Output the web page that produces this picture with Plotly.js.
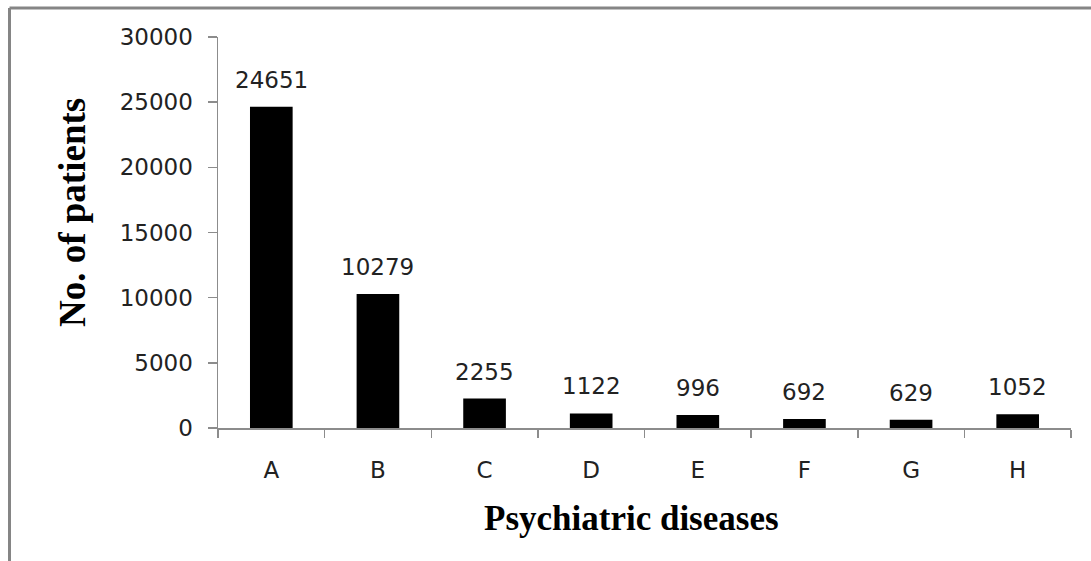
<!DOCTYPE html>
<html>
<head>
<meta charset="utf-8">
<script src="https://cdn.plot.ly/plotly-3.0.1.min.js"></script>
<style>
html,body{margin:0;padding:0;background:#fff;}
#chart{width:1091px;height:561px;}
</style>
</head>
<body>
<div id="chart"></div>
<script>
const categories = ["A", "B", "C", "D", "E", "F", "G", "H"];
const patients = [24651, 10279, 2255, 1122, 996, 692, 629, 1052];
const yTicks = [0, 5000, 10000, 15000, 20000, 25000, 30000];
const yTickText = ["0", "5000", "10000", "15000", "20000", "25000", "30000"];

const tickFont = {family: "DejaVu Sans, Verdana, sans-serif", size: 23, color: "#222"};
const serifFamily = "Liberation Serif, Times New Roman, serif";

const trace = {
  type: "bar",
  x: categories,
  y: patients,
  marker: {color: "#000", line: {width: 0}},
  hoverinfo: "x+y"
};

const labelAnnotations = categories.map((c, i) => ({
  x: c, y: patients[i], xref: "x", yref: "y",
  text: String(patients[i]), showarrow: false,
  yanchor: "bottom", yshift: 12,
  font: tickFont
}));

const layout = {
  width: 1091, height: 561,
  margin: {l: 218, r: 20, t: 37, b: 133},
  paper_bgcolor: "#fff", plot_bgcolor: "#fff",
  showlegend: false,
  bargap: 0.6,
  xaxis: {
    type: "category",
    tickson: "boundaries",
    ticks: "outside", ticklen: 8, tickwidth: 1.5, tickcolor: "#8c8c8c",
    showline: true, linecolor: "#8c8c8c", linewidth: 1.5,
    showgrid: false, zeroline: false,
    tickfont: tickFont,
    ticklabelstandoff: 21
  },
  yaxis: {
    range: [0, 30000],
    tickvals: yTicks,
    ticktext: yTickText,
    ticks: "outside", ticklen: 9, tickwidth: 1.5, tickcolor: "#8c8c8c",
    showline: true, linecolor: "#8c8c8c", linewidth: 1.5,
    showgrid: false, zeroline: false,
    tickfont: tickFont,
    ticklabelstandoff: 10,
    fixedrange: true
  },
  annotations: labelAnnotations.concat([
    {
      text: "<b>No. of patients</b>",
      xref: "paper", yref: "paper",
      x: (72 - 218) / 853, y: (428 - 213) / 391,
      xanchor: "center", yanchor: "middle",
      textangle: -90, showarrow: false,
      font: {family: serifFamily, size: 37, color: "#000"}
    },
    {
      text: "<b>Psychiatric diseases</b>",
      xref: "paper", yref: "paper",
      x: (631 - 218) / 853, y: (428 - 518) / 391,
      xanchor: "center", yanchor: "middle",
      showarrow: false,
      font: {family: serifFamily, size: 35, color: "#000"}
    }
  ]),
  shapes: [
    {type: "line", xref: "paper", yref: "paper",
     x0: (9.5 - 218) / 853, x1: (1091 - 218) / 853,
     y0: (428 - 8) / 391, y1: (428 - 8) / 391,
     line: {color: "#858585", width: 3}},
    {type: "line", xref: "paper", yref: "paper",
     x0: (9.5 - 218) / 853, x1: (9.5 - 218) / 853,
     y0: (428 - 8) / 391, y1: (428 - 561) / 391,
     line: {color: "#858585", width: 3}}
  ]
};

Plotly.newPlot("chart", [trace], layout, {displayModeBar: false, staticPlot: true});
</script>
</body>
</html>
